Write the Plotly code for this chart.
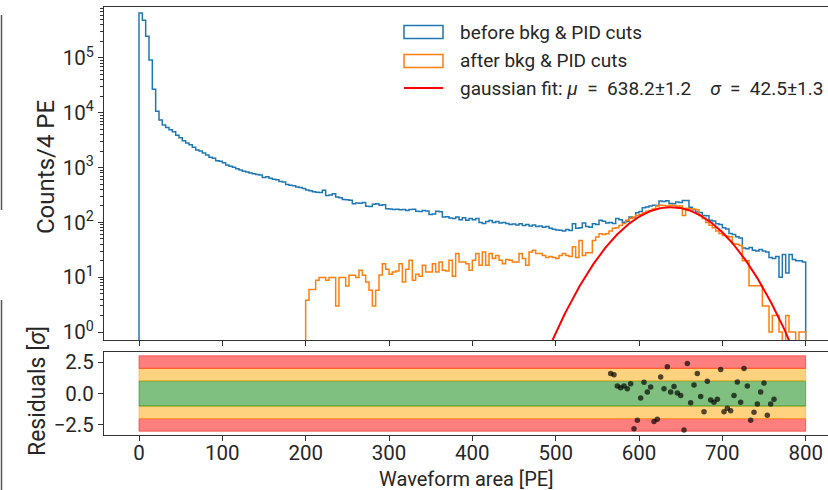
import numpy as np
import plotly.graph_objects as go

# ---------------- data ----------------
bin_width = 4
blue_start = 0
blue_counts = [
    660000, 490000, 250000, 92000, 27000, 10700, 7400, 6000, 5400, 4900,
    4500, 3900, 3500, 3100, 2800, 2600, 2350, 2100, 2000, 1850,
    1700, 1550, 1480, 1340, 1300, 1220, 1120, 1060, 1020, 950,
    900, 860, 830, 800, 770, 750, 730, 660, 680, 640,
    610, 600, 560, 545, 490, 475, 465, 445, 435, 415,
    390, 380, 362, 356, 350, 385, 310, 315, 335, 290,
    282, 262, 258, 255, 218, 226, 224, 230, 198, 195,
    215, 218, 205, 210, 178, 175, 172, 174, 170, 172,
    165, 172, 174, 160, 158, 165, 162, 140, 142, 160,
    156, 125, 127, 120, 118, 125, 112, 122, 110, 118,
    112, 118, 100, 96, 104, 108, 100, 104, 98, 100,
    96, 92, 94, 90, 95, 88, 92, 86, 90, 84,
    86, 82, 84, 78, 75, 73, 72, 70, 74, 71,
    95, 78, 80, 98, 84, 82, 95, 92, 109, 105,
    98, 100, 96, 118, 112, 101, 104, 125, 122, 150,
    158, 185, 192, 200, 206, 204, 245, 240, 248, 222,
    220, 236, 232, 252, 250, 190, 170, 155, 152, 134,
    132, 110, 106, 95, 92, 80, 76, 63, 60, 55,
    52, 34, 33, 35, 31, 30, 32, 30, 29, 23,
    22, 24, 10, 26, 12, 26, 21, 20, 20, 19,
]
orange_start = 200
orange_counts = [
    3.8, 6, 6, 8.8, 9.9, 9.9, 8.8, 9.9, 9.9, 3,
    9.9, 9.9, 6.9, 10.9, 10.9, 9.9, 13.4, 10.9, 8.2, 5.8,
    3, 5.8, 11, 17.7, 14, 11.3, 12.5, 13, 17.7, 8.2,
    14, 20.4, 8.8, 11.3, 10.4, 16.5, 12.5, 12.5, 17.7, 12.5,
    19, 13.4, 13, 20.4, 10.4, 27, 19, 19, 17.7, 13.4,
    20.4, 27, 16.5, 29, 16.5, 27, 22, 25, 20.4, 17.7,
    21, 20.4, 19, 19, 27, 22, 16.5, 29, 31, 27,
    27, 25, 23, 24, 23, 22, 25, 27, 25, 24,
    36, 23, 47, 25, 28, 28, 47, 54, 62, 60,
    62, 70, 78, 80, 88, 96, 110, 118, 125, 134,
    140, 150, 160, 165, 175, 200, 205, 204, 200, 206,
    204, 198, 200, 134, 182, 178, 176, 170, 134, 118,
    100, 89, 80, 70, 63, 58, 56, 55, 41, 40,
    38, 20, 20, 7, 7, 7, 7, 3, 3, 1,
    2, 2, 1, 0, 2, 1, 1, 0, 1, 1,
]

fit_mu, fit_mu_err = 638.2, 1.2
fit_sigma, fit_sigma_err = 42.5, 1.3
fit_amplitude = 190

resid_x = [
    566, 570, 574, 578, 582, 586, 590, 594, 598, 602,
    606, 610, 614, 618, 622, 626, 630, 634, 638, 642,
    646, 650, 654, 658, 662, 666, 670, 674, 678, 682,
    686, 690, 694, 698, 702, 706, 710, 714, 718, 722,
    726, 730, 734, 738, 742, 746, 750, 754, 758, 762,
]
resid_y = [
    1.59, 1.5, 0.59, 0.46, 0.59, 0.38, 0.78, -2.8, -2.12, -0.35,
    0.89, 0.11, 0.51, -2.23, -2.04, 1.32, 0.38, 2.12, 0.11, 0.56,
    0.03, -0.16, -2.9, 2.39, -0.73, 0.67, 1.59, -0.24, -1.45, 0.97,
    -0.51, -0.7, -0.45, 1.91, -1.45, -1.18, -1.37, -0.16, 0.91, -0.7,
    1.99, 0.59, -2.12, -1.5, -0.83, 0.11, 0.83, -1.72, -0.83, -0.45,
]

band_levels = [(-3, -2, "red"), (-2, -1, "orange"), (-1, 1, "green"), (1, 2, "orange"), (2, 3, "red")]
band_x = (0, 800)

x_ticks = [0, 100, 200, 300, 400, 500, 600, 700, 800]
log_ticks = [1, 10, 100, 1000, 10000, 100000]
log_tick_text = ["10<sup>%d</sup>" % i for i in range(6)]
log_minor_ticks = [m * 10 ** d for d in range(0, 6) for m in range(2, 10)]
res_ticks = [-2.5, 0.0, 2.5]
res_tick_text = ["\u22122.5", "0.0", "2.5"]

SP2 = "\u00a0\u00a0"
legend_labels = [
    "before bkg &amp; PID cuts",
    "after bkg &amp; PID cuts",
    "gaussian fit: <i>\u03bc</i>" + SP2 + "=" + SP2 + "%.1f\u00b1%.1f" % (fit_mu, fit_mu_err)
    + SP2 + SP2 + "<i>\u03c3</i>" + SP2 + "=" + SP2 + "%.1f\u00b1%.1f" % (fit_sigma, fit_sigma_err),
]
x_title = "Waveform area [PE]"
y_title = "Counts/4 PE"
y2_title = "Residuals [<i>\u03c3</i>]"

# ---------------- layout geometry (pixels) ----------------
W, H = 828, 490
L, R, T, B = 104, 0, 7, 55
PW, PH = W - L - R, H - T - B


def px(xp):
    return (xp - L) / PW


def py(yp):
    return (H - B - yp) / PH


FLOOR = 1e-3


def step_xy(start, counts):
    edges = [start + i * bin_width for i in range(len(counts) + 1)]
    ys = [c if c > 0 else FLOOR for c in counts]
    xs = [edges[0]] + edges[:-1] + [edges[-1]] * 2
    yv = [FLOOR] + ys + [ys[-1], FLOOR]
    return xs, yv


BLUE = "#1f77b4"
ORANGE = "#ff7f0e"
FONT = "Roboto"
AX = "#333333"
TXT = "#262626"

fig = go.Figure()

bx, by = step_xy(blue_start, blue_counts)
fig.add_trace(go.Scatter(x=bx, y=by, mode="lines", line=dict(color=BLUE, width=1.5, shape="hv"),
                         name=legend_labels[0], xaxis="x", yaxis="y"))
ox, oy = step_xy(orange_start, orange_counts)
fig.add_trace(go.Scatter(x=ox, y=oy, mode="lines", line=dict(color=ORANGE, width=1.5, shape="hv"),
                         name=legend_labels[1], xaxis="x", yaxis="y"))

gx = np.linspace(400, 800, 401)
gy = fit_amplitude * np.exp(-0.5 * ((gx - fit_mu) / fit_sigma) ** 2)
fig.add_trace(go.Scatter(x=gx, y=gy, mode="lines", line=dict(color="red", width=2),
                         name=legend_labels[2], xaxis="x", yaxis="y"))

fig.add_trace(go.Scatter(x=resid_x, y=resid_y, mode="markers",
                         marker=dict(color="rgba(0,0,0,0.68)", size=5.5, line=dict(width=0)),
                         xaxis="x2", yaxis="y2"))

band_fill = {"red": "rgba(255,0,0,0.5)", "orange": "rgba(255,165,0,0.5)", "green": "rgba(0,128,0,0.5)"}
shapes = []
for lo, hi, c in band_levels:
    shapes.append(dict(type="rect", xref="x2", yref="y2", x0=band_x[0], x1=band_x[1], y0=lo, y1=hi,
                       fillcolor=band_fill[c], line=dict(color=band_fill[c], width=1), layer="below"))
# left-edge frame remnants of the source image
shapes.append(dict(type="line", xref="paper", yref="paper", x0=px(1.5), x1=px(1.5),
                   y0=py(15), y1=py(210), line=dict(color="#555", width=1.5)))
shapes.append(dict(type="line", xref="paper", yref="paper", x0=px(1.5), x1=px(1.5),
                   y0=py(300), y1=py(492), line=dict(color="#555", width=1.5)))

annotations = []
# manual legend (matplotlib-style outlined boxes)
leg_rows = [(32, BLUE, "box"), (61, ORANGE, "box"), (89, "red", "line")]
for (yc, col, kind), lab in zip(leg_rows, legend_labels):
    if kind == "box":
        shapes.append(dict(type="rect", xref="paper", yref="paper", x0=px(404), x1=px(443),
                           y0=py(yc - 6.5), y1=py(yc + 6.5), line=dict(color=col, width=1.5),
                           fillcolor="rgba(0,0,0,0)"))
    else:
        shapes.append(dict(type="line", xref="paper", yref="paper", x0=px(404), x1=px(443),
                           y0=py(yc - 1), y1=py(yc - 1), line=dict(color=col, width=2)))
    annotations.append(dict(xref="paper", yref="paper", x=px(458), y=py(yc), xanchor="left",
                            yanchor="middle", text=lab, showarrow=False,
                            font=dict(family=FONT, size=19, color=TXT)))

# axis titles placed at the reference pixel positions
annotations.append(dict(xref="paper", yref="paper", x=px(466), y=py(479), xanchor="center",
                        yanchor="middle", text=x_title, showarrow=False,
                        font=dict(family=FONT, size=20, color=TXT)))
annotations.append(dict(xref="paper", yref="paper", x=px(46), y=py(167), xanchor="center",
                        yanchor="middle", text=y_title, showarrow=False, textangle=-90,
                        font=dict(family=FONT, size=24, color=TXT)))
annotations.append(dict(xref="paper", yref="paper", x=px(37), y=py(391), xanchor="center",
                        yanchor="middle", text=y2_title, showarrow=False, textangle=-90,
                        font=dict(family=FONT, size=23, color=TXT)))

xr = [-42, 826.8]
common_x = dict(range=xr, tickvals=x_ticks, ticks="outside", ticklen=5, tickwidth=1.2, tickcolor=AX,
                showline=True, linecolor=AX, linewidth=1.2, mirror=True, showgrid=False, zeroline=False,
                automargin=False)

fig.update_layout(
    width=W, height=H,
    margin=dict(l=L, r=R, t=T, b=B),
    paper_bgcolor="white", plot_bgcolor="white",
    font=dict(family=FONT, size=20.5, color=TXT),
    shapes=shapes,
    annotations=annotations,
    showlegend=False,
    xaxis=dict(common_x, domain=[0, 1], anchor="y", showticklabels=False, matches="x2"),
    yaxis=dict(type="log", range=[-0.145, 5.93], domain=[95 / 428, 1], anchor="x",
               tickvals=log_ticks, ticktext=log_tick_text, ticks="outside", ticklen=5, tickwidth=1.2,
               tickcolor=AX, showline=True, linecolor=AX, linewidth=1.2, mirror=True,
               showgrid=False, zeroline=False, automargin=False,
               minor=dict(tickmode="array", tickvals=log_minor_ticks, ticks="outside", ticklen=2.5,
                          tickwidth=1, tickcolor=AX, showgrid=False)),
    xaxis2=dict(common_x, domain=[0, 1], anchor="y2", ticklabelstandoff=-6),
    yaxis2=dict(range=[-3.3, 3.3], domain=[0, 83 / 428], anchor="x2",
                tickvals=res_ticks, ticktext=res_tick_text, ticks="outside", ticklen=5, tickwidth=1.2,
                tickcolor=AX, showline=True, linecolor=AX, linewidth=1.2, mirror=True,
                showgrid=False, zeroline=False, automargin=False),
)

fig.write_html("out.html", config={"displayModeBar": False},
               post_script="document.body.style.margin='0px';")
